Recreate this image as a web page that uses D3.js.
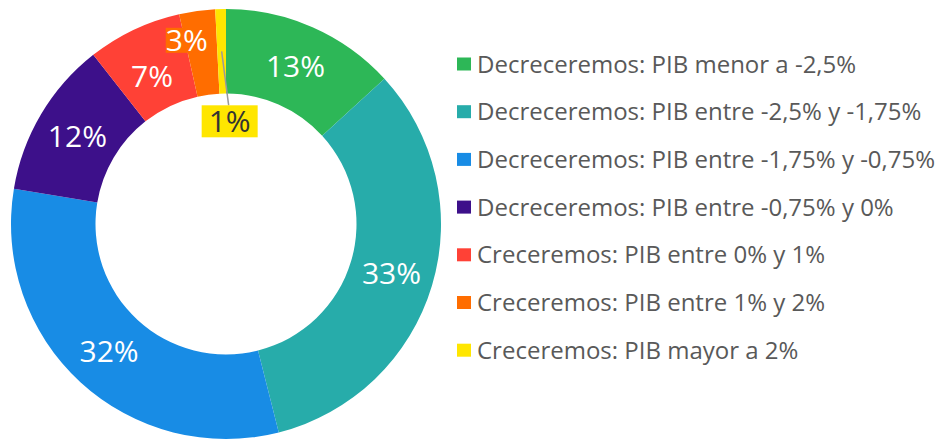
<!DOCTYPE html>
<html><head><meta charset="utf-8">
<script src="https://cdn.jsdelivr.net/npm/d3@7"></script>
<style>html,body{margin:0;padding:0;background:#fff;}svg{display:block;}</style>
</head><body>
<svg id="chart" width="947" height="444"></svg>
<script>
const categories = [
  "Decreceremos: PIB menor a -2,5%",
  "Decreceremos: PIB entre -2,5% y -1,75%",
  "Decreceremos: PIB entre -1,75% y -0,75%",
  "Decreceremos: PIB entre -0,75% y 0%",
  "Creceremos: PIB entre 0% y 1%",
  "Creceremos: PIB entre 1% y 2%",
  "Creceremos: PIB mayor a 2%"
];
const values = [13.2, 32.9, 31.6, 11.8, 7.1, 2.7, 0.8];
const labels = ["13%", "33%", "32%", "12%", "7%", "3%", "1%"];
const colors = ["#2DB757", "#27ACAA", "#188CE5", "#3D108A", "#FF4136", "#FF6D00", "#FFE600"];

const svg = d3.select("#chart");
const cx = 226, cy = 224, rOuter = 215, rInner = 130.5;
const g = svg.append("g").attr("transform", `translate(${cx},${cy})`);

const pie = d3.pie().sort(null).value(d => d)(values);
const arc = d3.arc().innerRadius(rInner).outerRadius(rOuter);

g.selectAll("path.slice").data(pie).enter().append("path")
  .attr("class", "slice")
  .attr("d", arc)
  .attr("fill", (d, i) => colors[i]);

// label layout tweaks (offsets from centroid) for crowded small slices
const labelShift = {4: [0, 8], 5: [-16, -13]};
const fontLab = "'Open Sans', sans-serif";

pie.forEach((d, i) => {
  const c = arc.centroid(d);
  if (i === 6) {
    const lx = c[0] + 8, ly = c[1] + 70;
    g.append("line").attr("x1", c[0]).attr("y1", c[1]).attr("x2", lx - 1).attr("y2", ly - 16)
      .attr("stroke", "#9a9a9a").attr("stroke-width", 1.5);
    g.append("rect").attr("x", lx - 28).attr("y", ly - 16).attr("width", 56).attr("height", 32)
      .attr("fill", colors[i]);
    g.append("text").attr("x", lx).attr("y", ly)
      .attr("text-anchor", "middle").attr("dy", "0.36em")
      .attr("font-family", fontLab).attr("font-size", 30).attr("fill", "#333333").text(labels[i]);
    return;
  }
  const s = labelShift[i] || [0, 0];
  const x = c[0] + s[0], y = c[1] + s[1];
  if (i === 5) {
    g.append("rect").attr("x", x - 21).attr("y", y - 12).attr("width", 42).attr("height", 25)
      .attr("fill", colors[i]);
  }
  g.append("text").attr("x", x).attr("y", y)
    .attr("text-anchor", "middle").attr("dy", "0.36em")
    .attr("font-family", fontLab).attr("font-size", 30).attr("fill", "#ffffff").text(labels[i]);
});

// legend
const legend = svg.append("g").attr("transform", "translate(457,64)");
const rowH = 47.7;
const items = legend.selectAll("g").data(categories).enter().append("g")
  .attr("transform", (d, i) => `translate(0,${i * rowH})`);
items.append("rect").attr("x", 0).attr("y", -6.5).attr("width", 14).attr("height", 13)
  .attr("fill", (d, i) => colors[i]);
items.append("text").attr("x", 20).attr("y", 0).attr("dy", "0.36em")
  .attr("font-family", "'Open Sans', sans-serif").attr("font-size", 24).attr("fill", "#595959")
  .text(d => d);
</script>
</body></html>
